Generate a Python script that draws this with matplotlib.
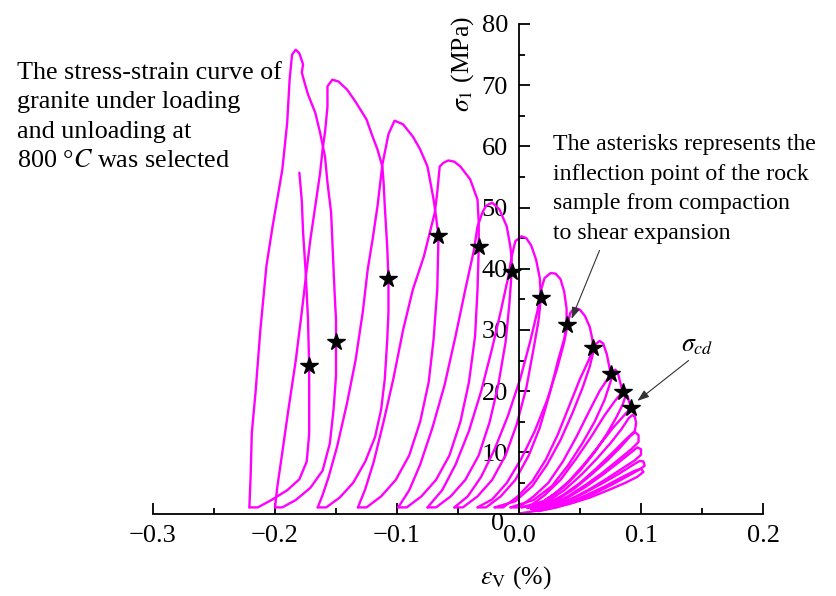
import matplotlib
matplotlib.use("Agg")
import matplotlib.pyplot as plt
from matplotlib.ticker import MultipleLocator
from matplotlib.transforms import ScaledTranslation

plt.rcParams['font.family'] = ['Liberation Serif', 'DejaVu Serif']
plt.rcParams['mathtext.fontset'] = 'stix'

# ---- data: volumetric strain (%) and sigma_1 (MPa), one stroke per cycle ----
cyc07_x = [0.000, 0.010, 0.025, 0.042, 0.058, 0.073, 0.087, 0.097, 0.102, 0.100, 0.095, 0.084, 0.070, 0.054, 0.038, 0.024, 0.016]
cyc07_y = [0.0, 0.3, 0.8, 1.6, 2.6, 3.8, 5.0, 6.0, 6.8, 7.3, 7.0, 5.9, 4.4, 2.9, 1.6, 0.8, 0.4]
cyc09_x = [0.016, 0.031, 0.047, 0.062, 0.076, 0.089, 0.098, 0.103, 0.102, 0.099, 0.093, 0.082, 0.068, 0.053, 0.038, 0.024, 0.014]
cyc09_y = [0.4, 1.0, 2.0, 3.3, 4.7, 6.1, 7.1, 7.8, 8.5, 8.6, 7.9, 6.5, 4.9, 3.3, 1.9, 0.9, 0.5]
cyc11_x = [0.014, 0.028, 0.043, 0.058, 0.072, 0.085, 0.095, 0.100, 0.100, 0.097, 0.092, 0.082, 0.069, 0.055, 0.040, 0.025, 0.012]
cyc11_y = [0.5, 1.2, 2.4, 4.0, 5.7, 7.4, 8.7, 9.6, 10.5, 10.8, 10.0, 8.4, 6.4, 4.4, 2.6, 1.2, 0.6]
cyc13_x = [0.012, 0.026, 0.040, 0.054, 0.068, 0.081, 0.092, 0.098, 0.098, 0.095, 0.091, 0.083, 0.072, 0.059, 0.045, 0.029, 0.010]
cyc13_y = [0.6, 1.4, 2.8, 4.6, 6.6, 8.7, 10.5, 11.7, 12.8, 13.3, 12.6, 10.8, 8.6, 6.3, 4.0, 2.0, 0.7]
cyc16_x = [0.010, 0.022, 0.036, 0.050, 0.063, 0.076, 0.087, 0.095, 0.096, 0.095, 0.093, 0.090, 0.084, 0.075, 0.064, 0.051, 0.037, 0.022, 0.007]
cyc16_y = [0.7, 1.5, 3.0, 5.0, 7.3, 9.8, 12.0, 13.5, 14.8, 15.8, 16.1, 15.6, 13.8, 11.5, 9.0, 6.3, 3.8, 1.8, 0.9]
cyc19_x = [0.007, 0.015, 0.028, 0.041, 0.054, 0.066, 0.077, 0.086, 0.092, 0.090, 0.089, 0.087, 0.085, 0.080, 0.072, 0.062, 0.050, 0.036, 0.020, 0.002]
cyc19_y = [0.9, 1.3, 3.0, 5.3, 8.2, 11.2, 14.0, 16.0, 17.3, 18.4, 19.2, 19.0, 17.8, 15.8, 13.0, 10.0, 7.0, 4.2, 2.0, 1.0]
cyc24_x = [0.002, 0.009, 0.021, 0.034, 0.047, 0.059, 0.070, 0.079, 0.085, 0.083, 0.081, 0.079, 0.077, 0.075, 0.070, 0.062, 0.052, 0.040, 0.027, 0.012, -0.007]
cyc24_y = [1.0, 1.2, 3.0, 5.5, 9.0, 12.5, 16.0, 18.5, 19.9, 21.4, 23.0, 23.5, 23.0, 21.5, 18.5, 15.0, 11.5, 7.8, 4.5, 2.2, 1.0]
cyc28_x = [-0.007, 0.000, 0.012, 0.024, 0.036, 0.047, 0.057, 0.066, 0.072, 0.075, 0.074, 0.072, 0.069, 0.066, 0.063, 0.061, 0.058, 0.052, 0.044, 0.034, 0.023, 0.011, -0.003, -0.020]
cyc28_y = [1.0, 1.0, 2.8, 5.0, 8.5, 12.5, 16.5, 20.0, 21.8, 22.8, 24.0, 26.0, 27.8, 28.2, 27.7, 26.5, 24.0, 20.5, 16.5, 12.0, 8.0, 4.5, 2.0, 1.0]
cyc34_x = [-0.020, -0.013, -0.001, 0.011, 0.022, 0.032, 0.041, 0.050, 0.057, 0.061, 0.060, 0.058, 0.054, 0.050, 0.046, 0.042, 0.040, 0.037, 0.031, 0.023, 0.013, 0.002, -0.010, -0.022, -0.034]
cyc34_y = [1.0, 1.0, 2.8, 5.3, 8.8, 13.0, 17.5, 22.0, 25.0, 27.1, 28.6, 30.5, 32.3, 33.3, 33.6, 32.8, 31.0, 28.0, 23.5, 18.5, 13.5, 9.0, 5.0, 2.3, 1.0]
cyc39_x = [-0.034, -0.027, -0.015, -0.003, 0.008, 0.017, 0.025, 0.032, 0.037, 0.039, 0.039, 0.037, 0.034, 0.030, 0.026, 0.021, 0.018, 0.015, 0.009, 0.001, -0.009, -0.020, -0.031, -0.042, -0.053]
cyc39_y = [1.0, 1.0, 2.8, 5.5, 9.5, 14.0, 19.5, 25.0, 28.5, 30.8, 33.5, 36.3, 38.3, 39.2, 39.3, 38.5, 36.5, 33.0, 28.0, 22.0, 16.0, 10.5, 6.0, 2.8, 1.0]
cyc45_x = [-0.053, -0.046, -0.034, -0.022, -0.011, -0.002, 0.006, 0.012, 0.016, 0.018, 0.017, 0.014, 0.010, 0.006, 0.002, -0.003, -0.006, -0.009, -0.015, -0.022, -0.031, -0.041, -0.052, -0.063, -0.075]
cyc45_y = [1.0, 1.0, 2.8, 5.5, 9.5, 14.5, 20.5, 27.0, 31.5, 35.3, 38.5, 41.5, 43.8, 45.0, 45.3, 44.5, 42.0, 38.5, 33.0, 27.0, 20.0, 13.5, 8.0, 3.8, 1.0]
cyc51_x = [-0.075, -0.068, -0.056, -0.044, -0.033, -0.024, -0.017, -0.011, -0.008, -0.006, -0.006, -0.007, -0.010, -0.016, -0.022, -0.027, -0.030, -0.034, -0.037, -0.044, -0.052, -0.061, -0.071, -0.081, -0.090, -0.099]
cyc51_y = [1.0, 1.0, 2.8, 5.5, 9.5, 15.0, 21.0, 28.0, 34.0, 39.5, 41.5, 43.5, 46.9, 49.7, 50.8, 50.3, 49.2, 46.9, 43.0, 36.6, 29.0, 21.0, 14.0, 8.0, 3.8, 1.0]
cyc58_x = [-0.099, -0.092, -0.080, -0.068, -0.057, -0.048, -0.041, -0.036, -0.034, -0.033, -0.033, -0.034, -0.040, -0.048, -0.053, -0.058, -0.062, -0.065, -0.067, -0.069, -0.078, -0.087, -0.095, -0.103, -0.111, -0.119, -0.126, -0.132]
cyc58_y = [1.0, 1.0, 2.8, 5.5, 9.5, 15.0, 21.5, 29.0, 36.6, 43.5, 47.5, 51.3, 54.6, 56.7, 57.5, 57.7, 57.3, 56.7, 52.5, 49.2, 42.0, 36.6, 30.0, 22.0, 15.0, 8.5, 4.0, 1.0]
cyc64_x = [-0.132, -0.125, -0.113, -0.101, -0.090, -0.081, -0.074, -0.070, -0.067, -0.066, -0.068, -0.070, -0.075, -0.081, -0.087, -0.095, -0.102, -0.107, -0.112, -0.116, -0.120, -0.124, -0.128, -0.134, -0.141, -0.149, -0.156, -0.161, -0.165]
cyc64_y = [1.0, 1.0, 2.8, 5.5, 9.5, 15.0, 21.5, 28.5, 36.6, 45.3, 48.5, 51.3, 56.7, 59.5, 61.6, 63.6, 64.2, 62.0, 57.0, 50.2, 44.8, 39.9, 33.0, 25.0, 18.0, 11.0, 6.0, 3.0, 1.0]
cyc71_x = [-0.165, -0.158, -0.147, -0.136, -0.126, -0.118, -0.113, -0.110, -0.108, -0.107, -0.107, -0.108, -0.110, -0.111, -0.112, -0.116, -0.120, -0.125, -0.134, -0.141, -0.148, -0.153, -0.157, -0.157, -0.159, -0.161, -0.163, -0.167, -0.171, -0.174, -0.178, -0.183, -0.189, -0.194, -0.198, -0.200]
cyc71_y = [1.0, 1.0, 2.6, 5.0, 8.5, 12.5, 17.0, 22.0, 28.4, 33.0, 38.4, 43.5, 50.2, 54.1, 56.7, 59.5, 61.6, 64.4, 67.3, 69.3, 70.6, 70.9, 69.8, 66.5, 62.3, 59.5, 55.7, 50.2, 44.8, 39.9, 33.0, 25.0, 17.0, 10.0, 4.5, 1.0]
cyc76_x = [-0.200, -0.194, -0.183, -0.171, -0.161, -0.155, -0.152, -0.150, -0.150, -0.150, -0.151, -0.152, -0.154, -0.157, -0.159, -0.163, -0.167, -0.173, -0.177, -0.178, -0.177, -0.180, -0.183, -0.186, -0.188, -0.190, -0.194, -0.202, -0.207, -0.212, -0.216, -0.219, -0.220, -0.221]
cyc76_y = [1.0, 1.0, 2.2, 4.2, 7.0, 11.5, 17.0, 22.5, 28.1, 31.7, 35.5, 39.9, 49.2, 54.1, 58.3, 62.2, 65.5, 68.5, 71.3, 72.1, 73.4, 75.2, 75.8, 75.0, 71.0, 63.9, 56.2, 46.9, 40.5, 30.0, 19.7, 13.2, 6.0, 1.0]
final_x = [-0.221, -0.214, -0.203, -0.190, -0.180, -0.174, -0.172, -0.172, -0.172, -0.173, -0.175, -0.177, -0.178, -0.180]
final_y = [1.0, 1.0, 2.2, 3.8, 5.6, 8.5, 13.0, 18.5, 24.1, 32.0, 39.9, 46.0, 51.0, 55.7]

# inflection points (compaction -> dilatancy)
star_x = [-0.172, -0.150, -0.107, -0.066, -0.033, -0.006, 0.018, 0.039, 0.061, 0.075, 0.085, 0.092]
star_y = [24.1, 28.1, 38.4, 45.3, 43.5, 39.5, 35.3, 30.8, 27.1, 22.8, 19.9, 17.3]

x_ticks = [-0.3, -0.2, -0.1, 0.0, 0.1, 0.2]
x_ticklabels = ['\u22120.3', '\u22120.2', '\u22120.1', '0.0', '0.1', '0.2']
y_ticks = [0, 10, 20, 30, 40, 50, 60, 70, 80]

strokes = [(cyc07_x, cyc07_y), (cyc09_x, cyc09_y), (cyc11_x, cyc11_y), (cyc13_x, cyc13_y),
           (cyc16_x, cyc16_y), (cyc19_x, cyc19_y), (cyc24_x, cyc24_y), (cyc28_x, cyc28_y),
           (cyc34_x, cyc34_y), (cyc39_x, cyc39_y), (cyc45_x, cyc45_y), (cyc51_x, cyc51_y),
           (cyc58_x, cyc58_y), (cyc64_x, cyc64_y), (cyc71_x, cyc71_y), (cyc76_x, cyc76_y),
           (final_x, final_y)]

W, H = 836, 596
fig = plt.figure(figsize=(W / 100, H / 100), dpi=100)
ax = fig.add_axes([153 / W, 1 - 513.5 / H, 610 / W, 489.5 / H])

MAG = '#FF00FF'
for sx, sy in strokes:
    ax.plot(sx, sy, color=MAG, lw=1.7, solid_joinstyle='round', solid_capstyle='round', zorder=2)

ax.plot(star_x, star_y, linestyle='none', marker='*', color='black', markersize=13, zorder=4)

ax.set_xlim(-0.3, 0.2)
ax.set_ylim(0, 80)

ax.spines['top'].set_visible(False)
ax.spines['right'].set_visible(False)
ax.spines['left'].set_position(('data', 0))
for s in ('left', 'bottom'):
    ax.spines[s].set_linewidth(1.3)

ax.set_xticks(x_ticks)
ax.set_xticklabels(x_ticklabels)
ax.set_yticks(y_ticks)
ax.xaxis.set_minor_locator(MultipleLocator(0.05))
ax.yaxis.set_minor_locator(MultipleLocator(5))
ax.tick_params(which='major', direction='in', length=8, width=1.3, labelsize=19, pad=8)
ax.tick_params(which='minor', direction='in', length=4.5, width=1.3)

# the "0" of the stress axis sits slightly lower in the reference
lbl0 = ax.get_yticklabels()[0]
lbl0.set_transform(lbl0.get_transform() + ScaledTranslation(-0.04, -0.08, fig.dpi_scale_trans))

fig.text(463 / W, 1 - 64 / H, r'$\sigma_{\mathrm{1}}$ (MPa)', rotation=90, ha='center', va='center', fontsize=18.5)
fig.text(516 / W, 1 - 578 / H, r'$\varepsilon_{\mathrm{V}}$ (%)', ha='center', va='center', fontsize=18.5)

fig.text(17 / W, 1 - 62 / H,
         'The stress-strain curve of\ngranite under loading\nand unloading at\n800 \u00b0$\\mathit{C}$ was selected',
         ha='left', va='top', fontsize=18.8, linespacing=1.43)

ax.text(0.028, 62.0,
        'The asterisks represents the\ninflection point of the rock\nsample from compaction\nto shear expansion',
        ha='left', va='top', fontsize=17.2, linespacing=1.54)

ax.text(0.146, 27.3, r'$\sigma_{cd}$', ha='center', va='center', fontsize=18.5)

arrow_kw = dict(arrowstyle='-|>,head_length=0.7,head_width=0.25', color='#333333', lw=0.8, shrinkA=0, shrinkB=0)
ax.annotate('', xy=(0.043, 31.8), xytext=(0.066, 43.0), arrowprops=arrow_kw)
ax.annotate('', xy=(0.097, 18.4), xytext=(0.139, 25.0), arrowprops=arrow_kw)

fig.savefig('out.png', dpi=100)
